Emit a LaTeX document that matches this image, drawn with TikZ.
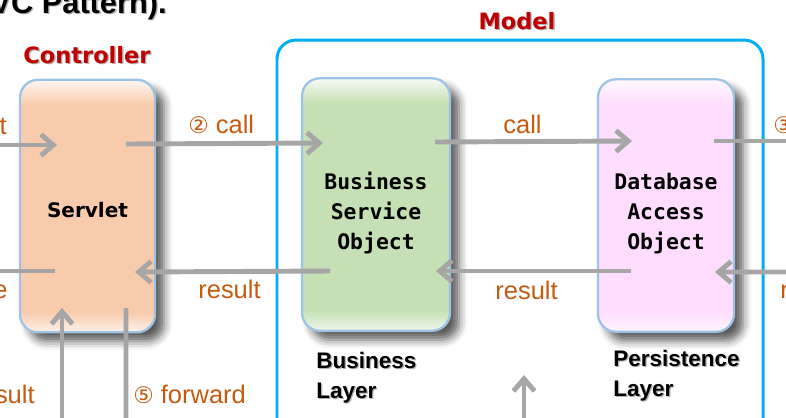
\documentclass[tikz,border=0pt]{standalone}
\usepackage{fontspec}
\setmainfont{Liberation Sans}
\newfontfamily\boxfont{DejaVu Sans Mono}
\newfontfamily\headfont{DejaVu Sans}
\newfontfamily\circfont{DejaVu Sans}
\usetikzlibrary{calc,arrows.meta,shadows.blur}

\definecolor{callorange}{RGB}{197,90,17}
\definecolor{headred}{RGB}{192,0,0}
\definecolor{flowgray}{RGB}{166,166,166}
\definecolor{modelblue}{RGB}{0,176,240}
\definecolor{glowblue}{RGB}{157,195,230}
\definecolor{ctrlfill}{RGB}{248,203,173}
\definecolor{bizfill}{RGB}{197,224,180}
\definecolor{daofill}{RGB}{255,221,255}

\def\boxshading#1#2{\pgfdeclareverticalshading{#1}{100bp}{color(0bp)=(#2!25!white); color(25bp)=(#2!25!white); color(29bp)=(#2); color(70bp)=(#2); color(75bp)=(#2!15!white); color(100bp)=(#2!15!white)}}
\boxshading{ctrlshade}{ctrlfill}
\boxshading{bizshade}{bizfill}
\boxshading{daoshade}{daofill}

\def\shadowtext[#1](#2)(#3)#4{\node[#1, text=black!30] (#3-sh) at ($(#2)+(1.3,1.3)$) {#4};
	\node[#1] (#3) at (#2) {#4};}

\tikzset{
	tierbox/.style={rounded corners=0.36cm, minimum height=5.05cm, draw=glowblue, line width=1.3pt,
		blur shadow={shadow xshift=0.18cm, shadow yshift=-0.18cm, shadow blur radius=0.17cm, shadow opacity=65}},
	boxtext/.style={font=\boxfont\bfseries\fontsize{12.2}{17.2}\selectfont, align=center, inner sep=0pt, anchor=north},
	flow/.style={draw=flowgray, line width=2.8pt, -{Straight Barb[length=7pt,width=12pt]}},
	flowline/.style={draw=flowgray, line width=2.8pt},
	labeltext/.style={text=callorange, font=\fontsize{14.5}{17}\selectfont, inner sep=0pt},
	headtext/.style={text=headred, font=\headfont\bfseries\fontsize{12.8}{15}\selectfont, inner sep=0pt, anchor=base},
	layertext/.style={font=\bfseries\fontsize{12.8}{17}\selectfont, align=left, inner sep=0pt, anchor=north west},
	titletext/.style={font=\bfseries\fontsize{17.5}{20}\selectfont, inner sep=0pt, anchor=base east}
}

\begin{document}
\begin{tikzpicture}[x=0.02cm, y=-0.02cm]
		%%%%% FRAME %%%%%
		\useasboundingbox (0,0) rectangle (786,417);
		
		\shadowtext[titletext](167,13)(title){VC Pattern).}
		
		%%%%% MODEL %%%%%
		\draw[modelblue, line width=1.7pt, rounded corners=0.38cm] (277,40) rectangle (763,460);
		\shadowtext[headtext](517,29)(modelhead){Model}
		\shadowtext[headtext](87,63)(ctrlhead){Controller}
		
		%%%%% BOXES %%%%%
		\node[tierbox, minimum width=2.7cm, shading=ctrlshade] (servlet) at (87.5,206) {};
		\node[tierbox, minimum width=2.96cm, shading=bizshade] (bso) at (376,204.5) {};
		\node[tierbox, minimum width=2.72cm, shading=daoshade] (dao) at (666,205.5) {};
		
		\node[boxtext, font=\headfont\bfseries\fontsize{11.4}{14}\selectfont, anchor=base] (servlettext) at ($(servlet)+(0,11)$) {Servlet};
		\node[boxtext] (bsotext) at ($(bso)+(0,-33)$) {Business\\Service\\Object};
		\node[boxtext] (daotext) at ($(dao)+(0,-33)$) {Database\\Access\\Object};
		
		\shadowtext[layertext](316,352)(bizlayer){Business\\Layer}
		\shadowtext[layertext](613,350)(perslayer){Persistence\\Layer}
		
		%%%%% FREE ENDS %%%%%
		\coordinate (reqin) at (-10,145);
		\coordinate (respout) at (-10,271);
		\coordinate (dbout) at (800,141);
		\coordinate (dbin) at (800,272);
		\coordinate (viewres) at (62,440);
		\coordinate (viewfwd) at (126,440);
		\coordinate (midfoot) at (524,440);
		\coordinate (midtip) at (524,375);
		
		%%%%% CALLS %%%%%
		\draw[flow] (reqin) -- ($(servlet)+(-30.5,-61)$);
		\draw[flow] ($(servlet)+(38.5,-62)$) -- ($(bso)+(-53,-61.5)$);
		\draw[flow] ($(bso)+(59,-62.5)$) -- ($(dao)+(-34,-64.5)$);
		\draw[flowline] ($(dao)+(48,-64.5)$) -- (dbout);
		
		%%%%% RESULTS %%%%%
		\draw[flow] (dbin) -- ($(dao)+(49,66.5)$);
		\draw[flow] ($(dao)+(-35,65.5)$) -- ($(bso)+(60,66.5)$);
		\draw[flow] ($(bso)+(-46,66.5)$) -- ($(servlet)+(47.5,66)$);
		\draw[flowline] ($(servlet)+(-32.5,65)$) -- (respout);
		
		%%%%% VIEW SIDE %%%%%
		\draw[flow] (viewres) -- ($(servlet)+(-25.5,102)$);
		\draw[flow] ($(servlet)+(38.5,102)$) -- (viewfwd);
		\draw[flow] (midfoot) -- (midtip);
		
		%%%%% LABELS %%%%%
		\node[labeltext, anchor=base east] (lreq) at (7,134) {t};
		\node[labeltext, anchor=base west] (lcall) at (188,133) {{\circfont\fontsize{13}{15}\selectfont ②} call};
		\node[labeltext, anchor=base west] (lcalldao) at (503,133) {call};
		\node[labeltext, anchor=base west] (ldb) at (773,133) {\circfont\fontsize{13}{15}\selectfont ③};
		\node[labeltext, anchor=base east] (lresp) at (8,298) {e};
		\node[labeltext, anchor=base west] (lresbso) at (198,298) {result};
		\node[labeltext, anchor=base west] (lresdao) at (495,299) {result};
		\node[labeltext, anchor=base west] (lresdb) at (780,298) {r};
		\node[labeltext, anchor=base east] (lresview) at (35,403) {sult};
		\node[labeltext, anchor=base west] (lfwd) at (133,403) {{\circfont\fontsize{13}{15}\selectfont ⑤} forward};
		
		%%%%% END %%%%%
	\end{tikzpicture}
\end{document}
